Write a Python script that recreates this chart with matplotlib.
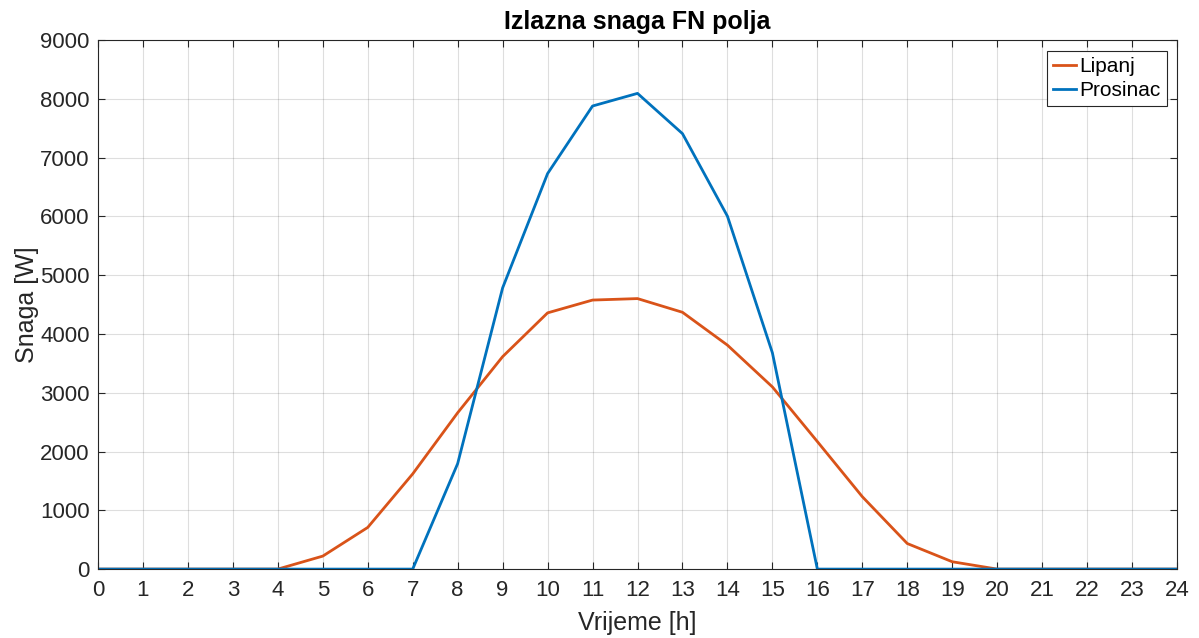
import matplotlib.pyplot as plt

sati = list(range(25))
lipanj = [0, 0, 0, 0, 0, 221, 709, 1620, 2660, 3615, 4360, 4578, 4603, 4370,
          3811, 3100, 2170, 1232, 435, 125, 0, 0, 0, 0, 0]
prosinac = [0, 0, 0, 0, 0, 0, 0, 0, 1795, 4785, 6730, 7880, 8095, 7410,
            6005, 3680, 0, 0, 0, 0, 0, 0, 0, 0, 0]
x_ticks = list(range(25))
y_ticks = list(range(0, 9001, 1000))

plt.rcParams['font.family'] = ['Liberation Sans', 'DejaVu Sans']

fig = plt.figure(figsize=(11.99, 6.38), dpi=100)
ax = fig.add_axes([0.0817, 0.108, 0.900, 0.829])

ax.plot(sati, lipanj, color='#D95319', linewidth=2, label='Lipanj')
ax.plot(sati, prosinac, color='#0072BD', linewidth=2, label='Prosinac')

ax.set_xlim(0, 24)
ax.set_ylim(0, 9000)
ax.set_xticks(x_ticks)
ax.set_yticks(y_ticks)
ax.grid(True, color='#262626', alpha=0.15, linewidth=0.8)
ax.set_axisbelow(True)
ax.tick_params(direction='in', top=True, right=True, length=5,
               labelsize=16, colors='#262626', width=0.8)
ax.tick_params(axis='x', pad=8)
ax.tick_params(axis='y', pad=6)
for s in ax.spines.values():
    s.set_color('#262626')
    s.set_linewidth(0.8)

ax.set_title('Izlazna snaga FN polja', fontsize=18, fontweight='bold', pad=8)
ax.set_xlabel('Vrijeme [h]', fontsize=18, color='#262626', labelpad=7)
ax.set_ylabel('Snaga [W]', fontsize=18, color='#262626', labelpad=1)

leg = ax.legend(loc='upper right', fontsize=15, fancybox=False, framealpha=1,
                edgecolor='#262626', handlelength=1.1, handletextpad=0.15,
                borderpad=0.3, labelspacing=0.25, borderaxespad=0.5)
leg.get_frame().set_linewidth(0.8)

fig.savefig('out.png', dpi=100)
